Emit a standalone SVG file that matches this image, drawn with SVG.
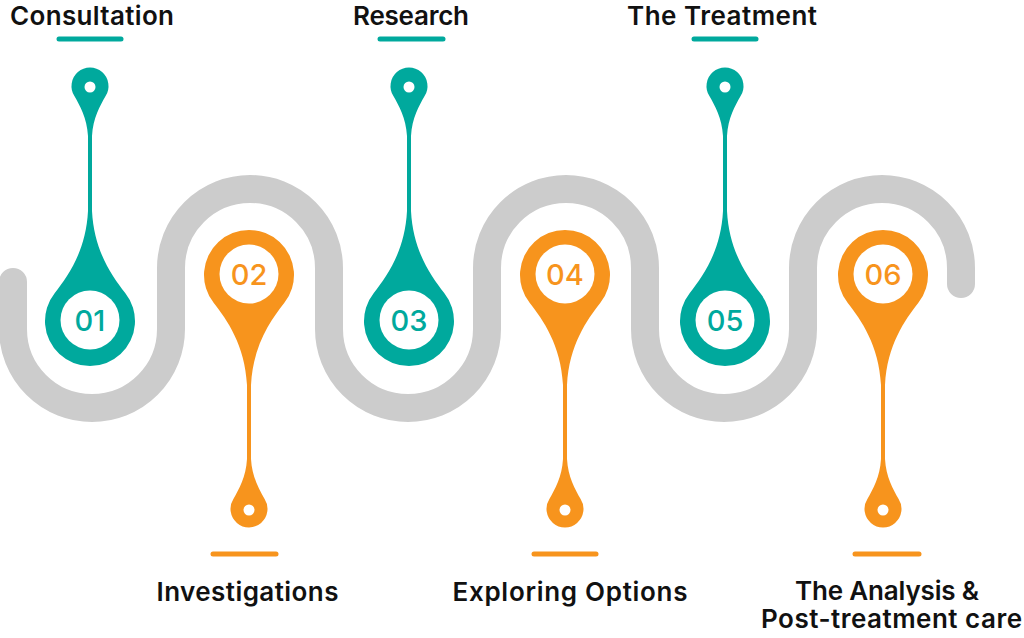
<svg xmlns="http://www.w3.org/2000/svg" width="1024" height="638" viewBox="0 0 1024 638">
<defs>
<style>
.road{fill:none;stroke:#cccccc;stroke-width:28;stroke-linecap:round;stroke-linejoin:round}
.teal{fill:#00a99d}
.orange{fill:#f7941d}
.tbar{stroke:#00a99d;stroke-width:5;stroke-linecap:round}
.obar{stroke:#f7941d;stroke-width:5;stroke-linecap:round}
.hole{fill:#ffffff}
.lbl{font-family:Inter,"Noto Sans","Liberation Sans",sans-serif;font-weight:600;font-size:26px;fill:#111111;text-anchor:middle}
.num{font-family:Inter,"Noto Sans","Liberation Sans",sans-serif;font-weight:500;font-size:29px;text-anchor:middle}
.tn{fill:#00a99d}
.on{fill:#f7941d}
</style>
<path id="dropUp" d="M2,-110 C4,-70 22,-45 35.2,-28 A45,45 0 1 1 -35.2,-28 C-22,-45 -4,-70 -2,-110 Z"/>
<path id="dropDown" d="M2,110 C4,70 22,45 35.2,28 A45,45 0 1 0 -35.2,28 C-22,45 -4,70 -2,110 Z"/>
<path id="headDown" d="M-15.6,10 A18.5,18.5 0 1 1 15.6,10 C10,20 3,32 2,50 L-2,50 C-3,32 -10,20 -15.6,10 Z"/>
<path id="headUp" d="M-15.6,-10 A18.5,18.5 0 1 0 15.6,-10 C10,-20 3,-32 2,-50 L-2,-50 C-3,-32 -10,-20 -15.6,-10 Z"/>
</defs>
<rect width="1024" height="638" fill="#ffffff"/>
<g id="connectors">
<path class="road" d="M13,282 V329 A79,79 0 0 0 171,329 V268 A79,79 0 0 1 329,268 V329 A79,79 0 0 0 487,329 V268 A79,79 0 0 1 645,268 V329 A79,79 0 0 0 803,329 V268 A79,79 0 0 1 961,268 V284"/>
</g>
<g id="step01">
<text class="lbl" x="92" y="25" textLength="164">Consultation</text>
<line class="tbar" x1="59" y1="39" x2="121" y2="39"/>
<use href="#headDown" class="teal" x="90" y="86"/>
<circle class="hole" cx="90" cy="87" r="5.5"/>
<rect class="teal" x="88" y="130" width="4" height="85"/>
<use href="#dropUp" class="teal" x="90" y="321"/>
<circle class="hole" cx="90" cy="320" r="29.5"/>
<text class="num tn" x="90" y="331">01</text>
</g>
<g id="step02">
<use href="#dropDown" class="orange" x="249" y="275"/>
<circle class="hole" cx="249" cy="274" r="29.5"/>
<text class="num on" x="249" y="285">02</text>
<rect class="orange" x="247" y="380" width="4" height="85"/>
<use href="#headUp" class="orange" x="249" y="509"/>
<circle class="hole" cx="249" cy="510" r="5.5"/>
<line class="obar" x1="213" y1="554" x2="276" y2="554"/>
<text class="lbl" x="247.5" y="601" textLength="182">Investigations</text>
</g>
<g id="step03">
<text class="lbl" x="411" y="25" textLength="116">Research</text>
<line class="tbar" x1="380" y1="39" x2="443" y2="39"/>
<use href="#headDown" class="teal" x="409" y="86"/>
<circle class="hole" cx="409" cy="87" r="5.5"/>
<rect class="teal" x="407" y="130" width="4" height="85"/>
<use href="#dropUp" class="teal" x="409" y="321"/>
<circle class="hole" cx="409" cy="320" r="29.5"/>
<text class="num tn" x="409" y="331">03</text>
</g>
<g id="step04">
<use href="#dropDown" class="orange" x="565" y="275"/>
<circle class="hole" cx="565" cy="274" r="29.5"/>
<text class="num on" x="565" y="285">04</text>
<rect class="orange" x="563" y="380" width="4" height="85"/>
<use href="#headUp" class="orange" x="565" y="509"/>
<circle class="hole" cx="565" cy="510" r="5.5"/>
<line class="obar" x1="534" y1="554" x2="596" y2="554"/>
<text class="lbl" x="570" y="601" textLength="235">Exploring Options</text>
</g>
<g id="step05">
<text class="lbl" x="722" y="25" textLength="190">The Treatment</text>
<line class="tbar" x1="694" y1="39" x2="756" y2="39"/>
<use href="#headDown" class="teal" x="725" y="86"/>
<circle class="hole" cx="725" cy="87" r="5.5"/>
<rect class="teal" x="723" y="130" width="4" height="85"/>
<use href="#dropUp" class="teal" x="725" y="321"/>
<circle class="hole" cx="725" cy="320" r="29.5"/>
<text class="num tn" x="725" y="331">05</text>
</g>
<g id="step06">
<use href="#dropDown" class="orange" x="883" y="275"/>
<circle class="hole" cx="883" cy="274" r="29.5"/>
<text class="num on" x="883" y="285">06</text>
<rect class="orange" x="881" y="380" width="4" height="85"/>
<use href="#headUp" class="orange" x="883" y="509"/>
<circle class="hole" cx="883" cy="510" r="5.5"/>
<line class="obar" x1="855" y1="554" x2="919" y2="554"/>
<text class="lbl" x="887" y="600" textLength="184">The Analysis &amp;</text>
<text class="lbl" x="891.5" y="628" textLength="261">Post-treatment care</text>
</g>
</svg>
